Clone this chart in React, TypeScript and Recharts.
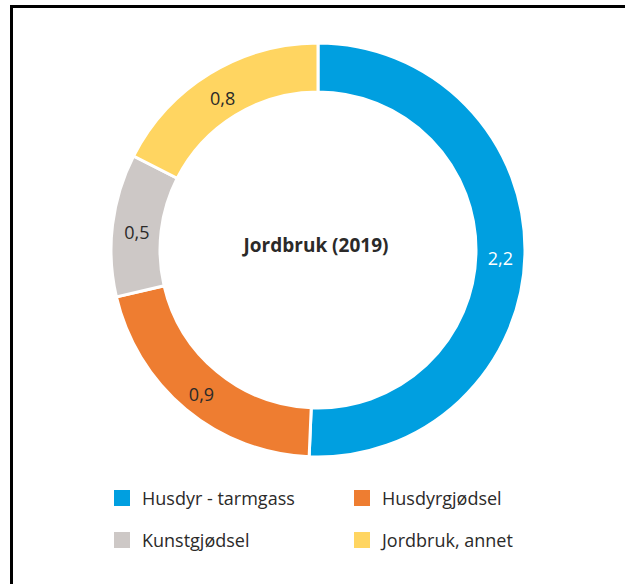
import React from "react";
import { PieChart, Pie, Cell, Legend } from "recharts";

const CATEGORIES = ["Husdyr - tarmgass", "Husdyrgjødsel", "Kunstgjødsel", "Jordbruk, annet"];
const VALUES = [2.23, 0.91, 0.49, 0.77];
const COLORS = ["#009fe0", "#ee7d31", "#cdc8c6", "#ffd561"];
const LABEL_COLORS = ["#ffffff", "#2b2a29", "#2b2a29", "#2b2a29"];
const TITLE = "Jordbruk (2019)";

const FONT = "'Open Sans', sans-serif";
const RAD = Math.PI / 180;

const data = CATEGORIES.map((name, i) => ({ name, value: VALUES[i] }));

const renderLabel = (props: any) => {
  const { cx, cy, midAngle, innerRadius, outerRadius, value, index } = props;
  const r = (innerRadius + outerRadius) / 2;
  const x = cx + r * Math.cos(-midAngle * RAD);
  const y = cy + r * Math.sin(-midAngle * RAD) + 4;
  return (
    <text
      x={x}
      y={y}
      fill={LABEL_COLORS[index]}
      textAnchor="middle"
      dominantBaseline="central"
      fontFamily={FONT}
      fontSize={18}
    >
      {Number(value).toFixed(1).replace(".", ",")}
    </text>
  );
};

// keep the original series order (legend payload gets sorted by name otherwise)
const renderLegend = () => (
  <div style={{ display: "grid", gridTemplateColumns: "240px 240px", gridAutoRows: "42px" }}>
    {data.map((item, i) => (
      <div key={`legend-${i}`} style={{ display: "flex", alignItems: "center" }}>
        <span style={{ width: 16, height: 16, background: COLORS[i], display: "inline-block", marginRight: 12 }} />
        <span style={{ fontFamily: FONT, fontSize: 18, color: "#2b2a29" }}>{item.name}</span>
      </div>
    ))}
  </div>
);

const App = () => {
  return (
    <div style={{ position: "fixed", left: 0, top: 0, width: 625, height: 584, overflow: "hidden", background: "#fff" }}>
      <div style={{ position: "absolute", left: 10, top: 5, width: 660, height: 640, border: "3px solid #000" }} />
      <div style={{ position: "absolute", left: 0, top: 0 }}>
        <PieChart width={625} height={584} margin={{ top: 0, right: 0, bottom: 0, left: 0 }}>
          <Pie
            data={data}
            dataKey="value"
            nameKey="name"
            cx={318}
            cy={250}
            innerRadius={158}
            outerRadius={207}
            startAngle={90}
            endAngle={-270}
            stroke="#ffffff"
            strokeWidth={3}
            label={renderLabel}
            labelLine={false}
            isAnimationActive={false}
          >
            {data.map((entry, index) => (
              <Cell key={`cell-${entry.name}`} fill={COLORS[index]} />
            ))}
          </Pie>
          <text
            x={316}
            y={245}
            textAnchor="middle"
            dominantBaseline="central"
            fontFamily={FONT}
            fontWeight={700}
            fontSize={19}
            fill="#2b2a29"
          >
            {TITLE}
          </text>
          <Legend
            content={renderLegend}
            wrapperStyle={{ left: 114, top: 477, width: 480 }}
          />
        </PieChart>
      </div>
    </div>
  );
};

export default App;
